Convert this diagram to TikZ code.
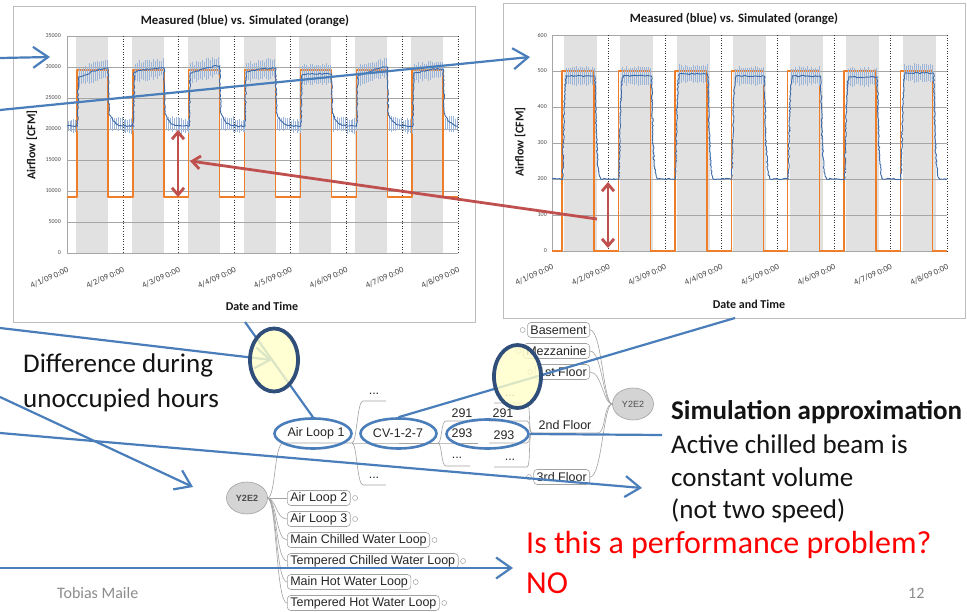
\documentclass[tikz,border=0pt]{standalone}
\usepackage{fontspec}
\setmainfont{Carlito}
\newfontfamily\mmfont{Liberation Sans}
\usetikzlibrary{arrows.meta,decorations.pathmorphing,shapes.geometric,calc}
\definecolor{pptblue}{HTML}{4A7EBB}
\definecolor{pptred}{HTML}{C0504D}
\definecolor{ringblue}{HTML}{2F4E7A}
\definecolor{ellfill}{HTML}{FFFFC8}
\definecolor{gridc}{HTML}{A6A6A6}
\definecolor{bandc}{HTML}{E1E1E1}
\definecolor{meas}{HTML}{3C6AA8}
\definecolor{errc}{HTML}{9DB6D8}
\definecolor{sim}{HTML}{EE7E2A}
\definecolor{mmgray}{HTML}{A2A2A2}
\definecolor{footgray}{HTML}{8C8C8C}
\definecolor{framec}{HTML}{BDBDBD}
\definecolor{hubfill}{HTML}{D4D4D4}
\tikzset{
  chartframe/.style={draw=framec, line width=0.8pt},
  gridline/.style={draw=gridc, line width=0.6pt},
  dayline/.style={draw=black!80, dotted, line width=0.6pt},
  simline/.style={draw=sim, line width=1.4pt, line join=round},
  measline/.style={draw=meas, line width=0.9pt, decorate, decoration={random steps, segment length=1.6pt, amplitude=0.7pt}},
  errbar/.style={draw=errc, line width=0.5pt},
  ctitle/.style={font=\bfseries\fontsize{12.7}{14}\selectfont, text=black!90},
  caxis/.style={font=\bfseries\fontsize{12}{13}\selectfont, text=black!90},
  ctick/.style={font=\fontsize{8.5}{10}\selectfont, text=black!75, rotate=25, anchor=east, inner sep=0pt},
  cytick/.style={font=\fontsize{6}{7}\selectfont, text=black!70, anchor=east, inner sep=0pt},
  bline/.style={draw=pptblue, line width=2.2pt},
  barrow/.style={bline, -{Straight Barb[length=15pt,width=21pt]}},
  rarrow/.style={draw=pptred, line width=2.8pt, -{Straight Barb[length=8pt,width=13pt]}},
  rdouble/.style={draw=pptred, line width=2.8pt, {Straight Barb[length=7pt,width=12pt]}-{Straight Barb[length=7pt,width=12pt]}},
  bluering/.style={ellipse, draw=pptblue, line width=2.6pt, inner sep=0pt},
  yring/.style={ellipse, draw=ringblue, line width=3.8pt, fill=ellfill, fill opacity=0.8, inner sep=0pt},
  mmbox/.style={draw=mmgray, line width=0.6pt, rounded corners=3.5pt, fill=white, font=\mmfont\fontsize{12.5}{14}\selectfont, text=black!85, inner xsep=3pt, inner ysep=0pt, minimum height=15pt},
  mmtext/.style={font=\mmfont\fontsize{12.5}{14}\selectfont, text=black!85, inner sep=0pt},
  mmline/.style={draw=mmgray, line width=0.6pt},
  mmknob/.style={draw=mmgray, line width=0.5pt, fill=white, circle, inner sep=0pt, minimum size=5pt},
  hub/.style={ellipse, draw=mmgray, fill=hubfill, line width=0.6pt, minimum width=41pt, minimum height=32pt, inner sep=0pt, text=black!70},
  bigtxt/.style={anchor=base west, inner sep=0pt, font=\fontsize{27}{33}\selectfont, text=black!92},
}
\begin{document}
\begin{tikzpicture}[x=1pt,y=-1pt]
\useasboundingbox (0,0) rectangle (967,612);
\fill[white] (0,0) rectangle (967,612);
\pgfmathsetseed{7}

% ================= LEFT CHART =================
\draw[chartframe] (13,6) rectangle (475,322);
\foreach \di in {0,...,6} \fill[bandc] ({67+55.86*\di+9},36) rectangle ({67+55.86*\di+41},254);
\foreach \v in {0,...,7} \draw[gridline] (67,{253-31*\v}) -- (458,{253-31*\v});
\draw[gridline] (67,36) -- (67,253);
\foreach \di in {1,...,7} \draw[dayline] ({67+55.86*\di},36) -- ({67+55.86*\di},253);
\foreach \v/\l in {0/0,1/5000,2/10000,3/15000,4/20000,5/25000,6/30000,7/35000}
  \node[cytick] at (61,{253-31*\v}) {\l};
\foreach \di [evaluate=\di as \dn using int(\di+1)] in {0,...,7}
  \node[ctick] at ({67+55.86*\di+1},269) {4/\dn/09 0:00};
\foreach \di in {0,...,6} {
  \pgfmathsetmacro\xo{67+55.86*\di}
  \draw[simline] (\xo,197) -- ({\xo+10},197) -- ({\xo+10},70) -- ({\xo+41},70) -- ({\xo+41},197) -- ({\xo+55.86},197);
}
\foreach \di/\ya/\yb in {0/77/68,1/72/68,2/73/66,3/72/68,4/75/74,5/76/67,6/73/69} {
  \pgfmathsetmacro\xo{67+55.86*\di}
  \foreach \k in {0,...,14} {
    \pgfmathsetmacro\xx{\xo+12+2*\k}
    \pgfmathsetmacro\yc{\ya+(\yb-\ya)*\k/14}
    \pgfmathsetmacro\h{7+4*rnd}
    \draw[errbar] ({\xx},{\yc-\h}) -- ({\xx},{\yc+\h});
  }
  \foreach \k in {0,...,5} {
    \pgfmathsetmacro\xx{\xo+1+1.8*\k}
    \pgfmathsetmacro\h{5+3*rnd}
    \draw[errbar] ({\xx},{126-\h}) -- ({\xx},{126+\h});
  }
  \foreach \k in {0,...,6} {
    \pgfmathsetmacro\xx{\xo+43+2*\k}
    \pgfmathsetmacro\h{5+3*rnd}
    \draw[errbar] ({\xx},{124-\h}) -- ({\xx},{124+\h});
  }
  \draw[measline] (\xo,126) -- ({\xo+10.5},126) -- ({\xo+11.5},\ya) .. controls ({\xo+20},{\ya-2}) and ({\xo+30},\yb) .. ({\xo+41},\yb) -- ({\xo+42},113) .. controls ({\xo+45},121) and ({\xo+49},125) .. ({\xo+55.86},126);
}
\node[ctitle] (t1) at (245,21) {Measured (blue) vs. Simulated (orange)};
\node[caxis, rotate=90] (ya1) at (32,145) {Airflow [CFM]};
\node[caxis] (xa1) at (262,306) {Date and Time};

% ================= RIGHT CHART =================
\draw[chartframe] (503,3) rectangle (965,318);
\foreach \di in {0,...,6} \fill[bandc] ({552+56.43*\di+12},35) rectangle ({552+56.43*\di+45},252);
\foreach \v in {0,...,6} \draw[gridline] (552,{251-36*\v}) -- (947,{251-36*\v});
\draw[gridline] (552,35) -- (552,251);
\foreach \di in {1,...,7} \draw[dayline] ({552+56.43*\di},35) -- ({552+56.43*\di},251);
\foreach \v/\l in {0/0,1/100,2/200,3/300,4/400,5/500,6/600}
  \node[cytick] at (547,{251-36*\v}) {\l};
\foreach \di [evaluate=\di as \dn using int(\di+1)] in {0,...,7}
  \node[ctick] at ({552+56.43*\di+1},266) {4/\dn/09 0:00};
\foreach \di in {0,...,6} {
  \pgfmathsetmacro\xo{552+56.43*\di}
  \draw[simline] (\xo,251) -- ({\xo+10},251) -- ({\xo+10},71) -- ({\xo+42},71) -- ({\xo+42},251) -- ({\xo+56.43},251);
}
\foreach \di/\ya in {0/76,1/76,2/74,3/76,4/76,5/77,6/73} {
  \pgfmathsetmacro\xo{552+56.43*\di}
  \foreach \k in {0,...,14} {
    \pgfmathsetmacro\xx{\xo+14+2*\k}
    \pgfmathsetmacro\h{7+3*rnd}
    \draw[errbar] ({\xx},{\ya-\h}) -- ({\xx},{\ya+\h});
  }
  \draw[measline] (\xo,179) -- ({\xo+10.5},179) .. controls ({\xo+12},130) and ({\xo+12},\ya) .. ({\xo+15},\ya) -- ({\xo+43},\ya) .. controls ({\xo+44.5},140) and ({\xo+45},176) .. ({\xo+49},179) -- ({\xo+56.43},179);
}
\node[ctitle] (t2) at (734,19) {Measured (blue) vs. Simulated (orange)};
\node[caxis, rotate=90] (ya2) at (520,142) {Airflow [CFM]};
\node[caxis] (xa2) at (749,304) {Date and Time};

% ================= MIND MAP (left) =================
\node[hub, font=\mmfont\bfseries\fontsize{9}{10}\selectfont] (y2l) at (247,498) {Y2E2};
\node[mmbox, anchor=west] (al2) at (287,498) {Air Loop 2};
\node[mmbox, anchor=west] (al3) at (287,519) {Air Loop 3};
\node[mmbox, anchor=west] (mcw) at (287,540) {Main Chilled Water Loop};
\node[mmbox, anchor=west] (tcw) at (287,561) {Tempered Chilled Water Loop};
\node[mmbox, anchor=west] (mhw) at (287,582) {Main Hot Water Loop};
\node[mmbox, anchor=west] (thw) at (287,603) {Tempered Hot Water Loop};
\foreach \n in {al2,al3,mcw,tcw,mhw,thw} \node[mmknob] (k\n) at ($(\n.east)+(4.5,0)$) {};
\draw[mmline] (y2l.east) -- (al2.west);
\foreach \n in {al3,mcw,tcw,mhw,thw}
  \draw[mmline] (y2l.east) .. controls ($(y2l.east)+(9,2)$) and ($(\n.west)+(-11,0)$) .. (\n.west);

\node[mmtext] (al1) at (316,433) {Air Loop 1};
\coordinate (al1L) at (283,443); \coordinate (al1R) at (352,443);
\draw[mmline] (y2l.east) .. controls ($(y2l.east)+(8,-2)$) and ($(al1L)+(-9,2)$) .. (al1L) -- (al1R);
\node[mmtext] (dA1) at (374,394) {...};
\node[mmtext] (dA2) at (374,478) {...};
\node[mmtext] (cv) at (398,433) {CV-1-2-7};
\coordinate (dA1L) at (363,401); \coordinate (dA1R) at (386,401);
\coordinate (dA2L) at (363,485); \coordinate (dA2R) at (386,485);
\coordinate (cvL) at (361,443); \coordinate (cvR) at (438,443);
\draw[mmline] (al1R) .. controls ($(al1R)+(5,0)$) and ($(dA1L)+(-6,0)$) .. (dA1L) -- (dA1R);
\draw[mmline] (al1R) .. controls ($(al1R)+(5,0)$) and ($(dA2L)+(-6,0)$) .. (dA2L) -- (dA2R);
\draw[mmline] (al1R) -- (cvL) -- (cvR);

\node[mmtext] (n291a) at (462,413) {291};
\node[mmtext] (n293a) at (462,433) {293};
\node[mmtext] (dB1) at (457,458) {...};
\coordinate (n291aL) at (446,421); \coordinate (n291aR) at (478,421);
\coordinate (n293aL) at (446,443); \coordinate (n293aR) at (478,443);
\coordinate (dB1L) at (446,466); \coordinate (dB1R) at (470,466);
\draw[mmline] (cvR) .. controls ($(cvR)+(4,0)$) and ($(n291aL)+(-5,0)$) .. (n291aL) -- (n291aR);
\draw[mmline] (cvR) -- (n293aL) -- (n293aR);
\draw[mmline] (cvR) .. controls ($(cvR)+(4,0)$) and ($(dB1L)+(-5,0)$) .. (dB1L) -- (dB1R);

% ================= MIND MAP (right) =================
\node[hub, font=\mmfont\fontsize{9}{10}\selectfont] (y2r) at (633,404) {Y2E2};
\node[mmbox, anchor=east] (bas) at (590,330) {Basement};
\node[mmbox, anchor=east] (mez) at (590,351) {Mezzanine};
\node[mmbox, anchor=east] (fl1) at (590,372) {1st Floor};
\node[mmbox, anchor=east] (fl3) at (590,477) {3rd Floor};
\foreach \n in {bas,mez,fl1,fl3} \node[mmknob] (k\n) at ($(\n.west)+(-4.5,0)$) {};
\node[mmtext] (fl2) at (565,425) {2nd Floor};
\coordinate (fl2L) at (532,433); \coordinate (fl2R) at (598,433);
\foreach \n in {bas,mez,fl1,fl3}
  \draw[mmline] (y2r.west) .. controls ($(y2r.west)+(-9,0)$) and ($(\n.east)+(12,0)$) .. (\n.east);
\draw[mmline] (y2r.west) .. controls ($(y2r.west)+(-9,0)$) and ($(fl2R)+(8,0)$) .. (fl2R) -- (fl2L);

\node[mmtext] (dC1) at (510,396) {...};
\node[mmtext] (n291b) at (503,413) {291};
\node[mmtext] (n293b) at (504,435) {293};
\node[mmtext] (dC2) at (510,460) {...};
\coordinate (dC1L) at (494,403); \coordinate (dC1R) at (527,403);
\coordinate (n291bL) at (489,421); \coordinate (n291bR) at (527,421);
\coordinate (n293bL) at (489,443); \coordinate (n293bR) at (527,443);
\coordinate (dC2L) at (494,467); \coordinate (dC2R) at (527,467);
\foreach \n in {dC1,n291b,n293b,dC2}
  \draw[mmline] (fl2L) .. controls ($(fl2L)+(-4,0)$) and ($(\n R)+(4,0)$) .. (\n R) -- (\n L);

% ================= CALLOUT LINES =================
\coordinate (a1s) at (0,58);  \coordinate (a1e) at (50,57);
\coordinate (a2s) at (0,110); \coordinate (a2e) at (530,57);
\coordinate (a3s) at (0,328); \coordinate (a3e) at (272,360);
\coordinate (a4s) at (0,397); \coordinate (a4e) at (193,487);
\coordinate (a5s) at (0,433); \coordinate (a5e) at (642,488);
\coordinate (a6s) at (0,568); \coordinate (a6e) at (513,568);
\coordinate (c1s) at (245,322);
\coordinate (c2s) at (735,318);
\coordinate (c3e) at (662,435);
\coordinate (r1s) at (597,219); \coordinate (r1e) at (190,161);
\coordinate (d1a) at (178,130); \coordinate (d1b) at (178,197);
\coordinate (d2a) at (608,182); \coordinate (d2b) at (608,248);

\node[bluering, minimum width=77pt, minimum height=30pt] (eal1) at (313,433.5) {};
\node[bluering, minimum width=76pt, minimum height=30pt] (ecv) at (398.5,433.5) {};
\node[bluering, minimum width=82pt, minimum height=29pt] (e293) at (487.5,434) {};

\draw[barrow] (a1s) -- (a1e);
\draw[barrow] (a2s) -- (a2e);
\draw[barrow] (a3s) -- (a3e);
\draw[barrow] (a4s) -- (a4e);
\draw[barrow] (a5s) -- (a5e);
\draw[barrow] (a6s) -- (a6e);
\draw[bline] (c1s) -- (eal1.north);
\draw[bline] (c2s) -- (ecv.north);
\draw[bline] (e293.east) -- (c3e);
\draw[rarrow] (r1s) -- (r1e);
\draw[rdouble] (d1a) -- (d1b);
\draw[rdouble] (d2a) -- (d2b);

\node[yring, minimum width=48pt, minimum height=63pt] (y1) at (274,360) {};
\node[yring, minimum width=47pt, minimum height=63pt] (y2) at (517.5,376.5) {};

% ================= TEXT =================
\node[bigtxt] (diff1) at (23,373) {Difference during};
\node[bigtxt] (diff2) at (23,407) {unoccupied hours};
\node[bigtxt, font=\bfseries\fontsize{27}{33}\selectfont] (sim1) at (671,419) {Simulation approximation};
\node[bigtxt] (sim2) at (671,453) {Active chilled beam is};
\node[bigtxt] (sim3) at (671,486) {constant volume};
\node[bigtxt] (sim4) at (671,518) {(not two speed)};
\node[bigtxt, font=\fontsize{32}{38}\selectfont, text=red] (q1) at (526,553) {Is this a performance problem?};
\node[bigtxt, font=\fontsize{32}{38}\selectfont, text=red] (q2) at (526,593) {NO};
\node[anchor=base west, inner sep=0pt, font=\fontsize{16}{19}\selectfont, text=footgray] (auth) at (57,598) {Tobias Maile};
\node[anchor=base west, inner sep=0pt, font=\fontsize{16}{19}\selectfont, text=footgray] (pg) at (908,598) {12};
\end{tikzpicture}
\end{document}
